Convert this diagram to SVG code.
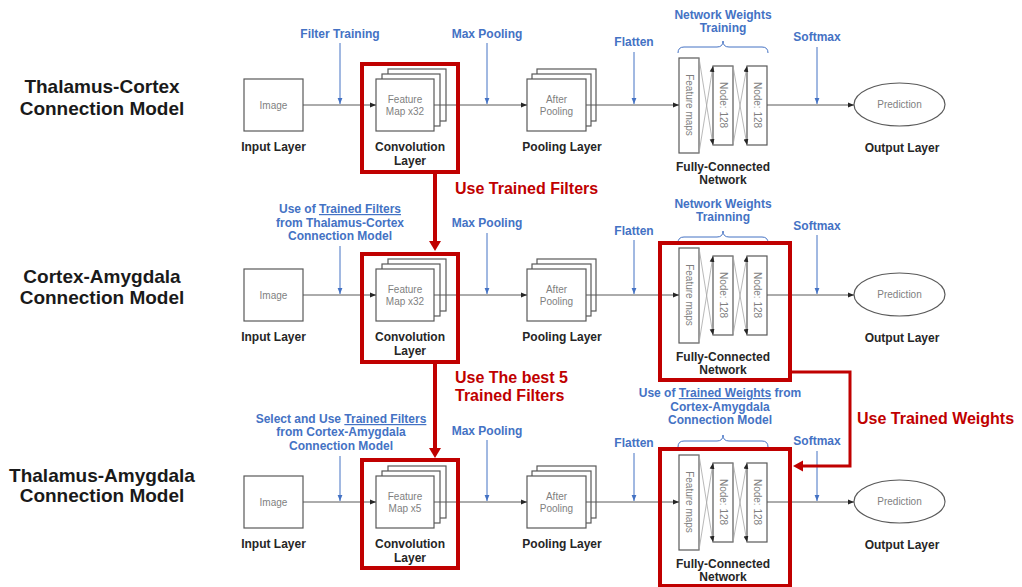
<svg xmlns="http://www.w3.org/2000/svg" width="1022" height="587" viewBox="0 0 1022 587">
  <style>
    text { font-family: "Liberation Sans", Arial, sans-serif; }
    .box { fill: #fff; stroke: #595959; stroke-width: 1.2; }
    .gt { font-size: 10px; fill: #7f7f7f; text-anchor: middle; }
    .lbl { font-size: 12px; font-weight: bold; fill: #262626; text-anchor: middle; }
    .bl { font-size: 12px; font-weight: bold; fill: #4472C4; text-anchor: middle; }
    .ul { text-decoration: underline; }
    .red { font-size: 16px; font-weight: bold; fill: #C00000; }
    .model { font-size: 19px; font-weight: bold; fill: #1a1a1a; text-anchor: middle; }
    .flow { stroke: #595959; stroke-width: 1; fill: none; marker-end: url(#ah); }
    .ann { stroke: #4472C4; stroke-width: 1; fill: none; marker-end: url(#ahB); }
    .xl { stroke: #a6a6a6; stroke-width: 0.8; fill: none; marker-end: url(#ah); }
    .brace { stroke: #4472C4; stroke-width: 1; fill: none; }
    .rbox { fill: none; stroke: #C00000; stroke-width: 4; }
    .rline { fill: none; stroke: #C00000; }
  </style>
  <defs>
    <marker id="ah" viewBox="0 0 10 10" refX="10" refY="5" markerWidth="6" markerHeight="6" markerUnits="userSpaceOnUse" orient="auto">
      <path d="M0,1 L10,5 L0,9 z" fill="#262626"/>
    </marker>
    <marker id="ahB" viewBox="0 0 10 10" refX="10" refY="5" markerWidth="6" markerHeight="6" markerUnits="userSpaceOnUse" orient="auto">
      <path d="M0,1 L10,5 L0,9 z" fill="#4472C4"/>
    </marker>
    <!-- one row of the pipeline, reused for the three models -->
    <g id="input-node">
      <rect class="box" x="244" y="79" width="59" height="52"/>
      <text class="gt" x="273.5" y="108.5">Image</text>
      <text class="lbl" x="273.5" y="151">Input Layer</text>
    </g>
    <g id="pool-node">
      <rect class="box" x="537" y="69" width="59" height="52"/>
      <rect class="box" x="532" y="74" width="59" height="52"/>
      <rect class="box" x="527" y="79" width="59" height="52"/>
      <text class="gt" x="556.5" y="103">After</text>
      <text class="gt" x="556.5" y="115">Pooling</text>
      <text class="lbl" x="562" y="151">Pooling Layer</text>
    </g>
    <g id="fc-node">
      <rect class="box" x="679" y="58" width="20" height="95"/>
      <rect class="box" x="713" y="66" width="20" height="79"/>
      <rect class="box" x="747" y="66" width="20" height="79"/>
      <path class="xl" d="M699,58 L713,145"/>
      <path class="xl" d="M699,153 L713,66"/>
      <path class="xl" d="M733,66 L747,145"/>
      <path class="xl" d="M733,145 L747,66"/>
      <text class="gt" transform="translate(689,105) rotate(90)" y="3.5">Feature maps</text>
      <text class="gt" transform="translate(723,105) rotate(90)" y="3.5">Node: 128</text>
      <text class="gt" transform="translate(757,105) rotate(90)" y="3.5">Node: 128</text>
      <text class="lbl" x="723" y="171">Fully-Connected</text>
      <text class="lbl" x="723" y="184">Network</text>
    </g>
    <g id="output-node">
      <ellipse class="box" cx="899.5" cy="104.5" rx="45.5" ry="21.5"/>
      <text class="gt" x="899.5" y="108">Prediction</text>
      <text class="lbl" x="902" y="152">Output Layer</text>
    </g>
    <path id="fc-brace" class="brace" d="M678,53 Q678,47 684,47 L717,47 Q723,47 723,41 Q723,47 729,47 L762,47 Q768,47 768,53"/>
  </defs>

  <!-- model titles -->
  <g id="titles">
    <text class="model" x="102" y="93">Thalamus-Cortex</text>
    <text class="model" x="102" y="115">Connection Model</text>
    <text class="model" x="102" y="283">Cortex-Amygdala</text>
    <text class="model" x="102" y="304">Connection Model</text>
    <text class="model" x="102" y="482">Thalamus-Amygdala</text>
    <text class="model" x="102" y="502">Connection Model</text>
  </g>

  <!-- Thalamus-Cortex row -->
  <g id="tc-row">
    <use id="tc-input" href="#input-node"/>
    <g id="tc-conv">
      <rect class="box" x="388" y="69" width="58" height="52"/>
      <rect class="box" x="382" y="74" width="58" height="52"/>
      <rect class="box" x="376" y="79" width="58" height="52"/>
      <text class="gt" x="405" y="103">Feature</text>
      <text class="gt" x="405" y="115">Map x32</text>
      <text class="lbl" x="410" y="151">Convolution</text>
      <text class="lbl" x="410" y="165">Layer</text>
    </g>
    <use id="tc-pool" href="#pool-node"/>
    <use id="tc-fc" href="#fc-node"/>
    <use id="tc-output" href="#output-node"/>
  </g>

  <!-- Cortex-Amygdala row -->
  <g id="ca-row" transform="translate(0,190)">
    <use id="ca-input" href="#input-node"/>
    <g id="ca-conv">
      <rect class="box" x="388" y="69" width="58" height="52"/>
      <rect class="box" x="382" y="74" width="58" height="52"/>
      <rect class="box" x="376" y="79" width="58" height="52"/>
      <text class="gt" x="405" y="103">Feature</text>
      <text class="gt" x="405" y="115">Map x32</text>
      <text class="lbl" x="410" y="151">Convolution</text>
      <text class="lbl" x="410" y="165">Layer</text>
    </g>
    <use id="ca-pool" href="#pool-node"/>
    <use id="ca-fc" href="#fc-node"/>
    <use id="ca-output" href="#output-node"/>
  </g>

  <!-- Thalamus-Amygdala row -->
  <g id="ta-row" transform="translate(0,397)">
    <use id="ta-input" href="#input-node"/>
    <g id="ta-conv">
      <rect class="box" x="388" y="69" width="58" height="52"/>
      <rect class="box" x="382" y="74" width="58" height="52"/>
      <rect class="box" x="376" y="79" width="58" height="52"/>
      <text class="gt" x="405" y="103">Feature</text>
      <text class="gt" x="405" y="115">Map x5</text>
      <text class="lbl" x="410" y="151">Convolution</text>
      <text class="lbl" x="410" y="165">Layer</text>
    </g>
    <use id="ta-pool" href="#pool-node"/>
    <use id="ta-fc" href="#fc-node"/>
    <use id="ta-output" href="#output-node"/>
  </g>

  <!-- data flow and step annotations -->
  <g id="connectors">
    <g id="tc-flow">
      <path class="flow" d="M303,105 L376,105"/>
      <path class="flow" d="M434,105 L527,105"/>
      <path class="flow" d="M586,105 L679,105"/>
      <path class="flow" d="M767,105 L854,105"/>
      <path class="ann" d="M340,43 L340,104"/>
      <path class="ann" d="M487,43 L487,104"/>
      <path class="ann" d="M634,52 L634,104"/>
      <path class="ann" d="M817,47 L817,104"/>
      <use href="#fc-brace"/>
      <text class="bl" x="340" y="38">Filter Training</text>
      <text class="bl" x="487" y="38">Max Pooling</text>
      <text class="bl" x="634" y="46">Flatten</text>
      <text class="bl" x="723" y="19">Network Weights</text>
      <text class="bl" x="723" y="32">Training</text>
      <text class="bl" x="817" y="41">Softmax</text>
    </g>
    <g id="ca-flow">
      <path class="flow" d="M303,295 L376,295"/>
      <path class="flow" d="M434,295 L527,295"/>
      <path class="flow" d="M586,295 L679,295"/>
      <path class="flow" d="M767,295 L854,295"/>
      <path class="ann" d="M340,246 L340,294"/>
      <path class="ann" d="M487,233 L487,294"/>
      <path class="ann" d="M634,240 L634,294"/>
      <path class="ann" d="M817,235 L817,294"/>
      <use href="#fc-brace" transform="translate(0,190)"/>
      <text class="bl" x="340" y="213">Use of <tspan class="ul">Trained Filters</tspan></text>
      <text class="bl" x="340" y="227">from Thalamus-Cortex</text>
      <text class="bl" x="340" y="240">Connection Model</text>
      <text class="bl" x="487" y="227">Max Pooling</text>
      <text class="bl" x="634" y="235">Flatten</text>
      <text class="bl" x="723" y="208">Network Weights</text>
      <text class="bl" x="723" y="221">Trainning</text>
      <text class="bl" x="817" y="230">Softmax</text>
    </g>
    <g id="ta-flow">
      <path class="flow" d="M303,502 L376,502"/>
      <path class="flow" d="M434,502 L527,502"/>
      <path class="flow" d="M586,502 L679,502"/>
      <path class="flow" d="M767,502 L854,502"/>
      <path class="ann" d="M340,456 L340,501"/>
      <path class="ann" d="M487,440 L487,501"/>
      <path class="ann" d="M634,453 L634,501"/>
      <path class="ann" d="M817,451 L817,501"/>
      <use href="#fc-brace" transform="translate(0,394)"/>
      <text class="bl" x="341" y="423">Select and Use <tspan class="ul">Trained Filters</tspan></text>
      <text class="bl" x="341" y="436">from Cortex-Amygdala</text>
      <text class="bl" x="341" y="450">Connection Model</text>
      <text class="bl" x="487" y="435">Max Pooling</text>
      <text class="bl" x="634" y="447">Flatten</text>
      <text class="bl" x="720" y="397">Use of <tspan class="ul">Trained Weights</tspan> from</text>
      <text class="bl" x="720" y="411">Cortex-Amygdala</text>
      <text class="bl" x="720" y="424">Connection Model</text>
      <text class="bl" x="817" y="445">Softmax</text>
    </g>

    <!-- transfer between models -->
    <g id="transfer">
      <path class="rline" stroke-width="4" d="M435,174 L435,242"/>
      <polygon points="429,241 441,241 435,251" fill="#C00000"/>
      <text class="red" x="455" y="194">Use Trained Filters</text>

      <path class="rline" stroke-width="4" d="M435,364 L435,449"/>
      <polygon points="429,448 441,448 435,458" fill="#C00000"/>
      <text class="red" x="455" y="383">Use The best 5</text>
      <text class="red" x="455" y="401">Trained Filters</text>

      <path class="rline" stroke-width="3" d="M792,372 L850,372 L850,466 L802,466"/>
      <polygon points="793,466 803,460.5 803,471.5" fill="#C00000"/>
      <text class="red" x="857" y="424">Use Trained Weights</text>
    </g>
  </g>

  <!-- highlighted layers -->
  <g id="highlights">
    <rect class="rbox" x="362" y="64" width="96" height="108"/>
    <rect class="rbox" x="362" y="254" width="96" height="108"/>
    <rect class="rbox" x="362" y="460" width="96" height="108"/>
    <rect class="rbox" x="660" y="243" width="130" height="137"/>
    <rect class="rbox" x="660" y="449" width="130" height="137"/>
  </g>
</svg>
